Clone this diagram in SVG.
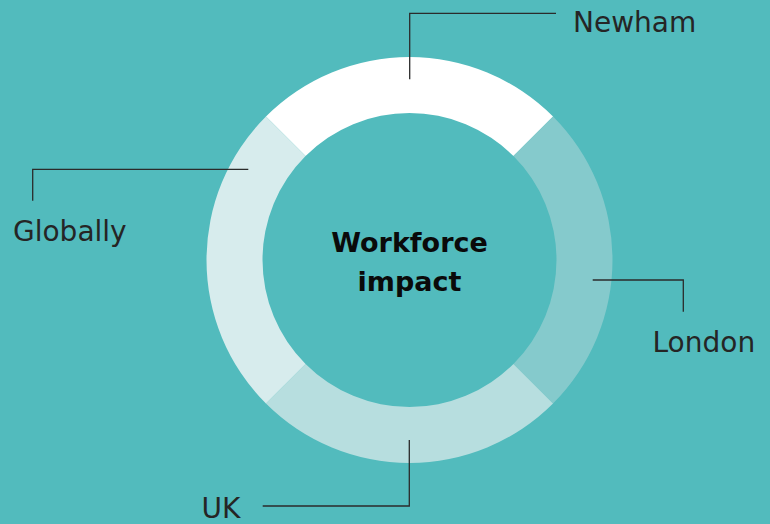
<svg xmlns="http://www.w3.org/2000/svg" width="770" height="524" viewBox="0 0 770 524">
<style>
.lbl{font-family:"DejaVu Sans","Liberation Sans",sans-serif;font-size:28px;fill:#252525}
.ctr{font-family:"DejaVu Sans","Liberation Sans",sans-serif;font-size:27px;font-weight:bold;fill:#0a0a0a;text-anchor:middle}
.lead{fill:none;stroke:#2b2b2b;stroke-width:1.3}
</style>
<rect width="770" height="524" fill="#52BBBD"/>
<g id="ring">
<path id="seg-newham" d="M265.96 116.46 A203 203 0 0 1 553.04 116.46 L513.44 156.06 A147 147 0 0 0 305.56 156.06 Z" fill="#FFFFFF"/>
<path id="seg-london" d="M553.04 116.46 A203 203 0 0 1 553.04 403.54 L513.44 363.94 A147 147 0 0 0 513.44 156.06 Z" fill="#85CACC"/>
<path id="seg-uk" d="M553.04 403.54 A203 203 0 0 1 265.96 403.54 L305.56 363.94 A147 147 0 0 0 513.44 363.94 Z" fill="#B7DEDF"/>
<path id="seg-globally" d="M265.96 403.54 A203 203 0 0 1 265.96 116.46 L305.56 156.06 A147 147 0 0 0 305.56 363.94 Z" fill="#D7ECED"/>
</g>
<g id="center">
<text class="ctr" x="409.5" y="251.7">Workforce</text>
<text class="ctr" x="409.5" y="290.7">impact</text>
</g>
<g id="connectors">
<polyline class="lead" points="409.7,79.3 409.7,13.3 556,13.3"/>
<polyline class="lead" points="248.3,169.3 32.7,169.3 32.7,200.7"/>
<polyline class="lead" points="592.7,280 683.3,280 683.3,311.7"/>
<polyline class="lead" points="409.3,440 409.3,506 262.7,506"/>
</g>
<g id="newham"><text class="lbl" x="573" y="31.7">Newham</text></g>
<g id="globally"><text class="lbl" x="13" y="240.7">Globally</text></g>
<g id="london"><text class="lbl" x="652.5" y="351.7">London</text></g>
<g id="uk"><text class="lbl" x="201.5" y="517.5">UK</text></g>
</svg>
